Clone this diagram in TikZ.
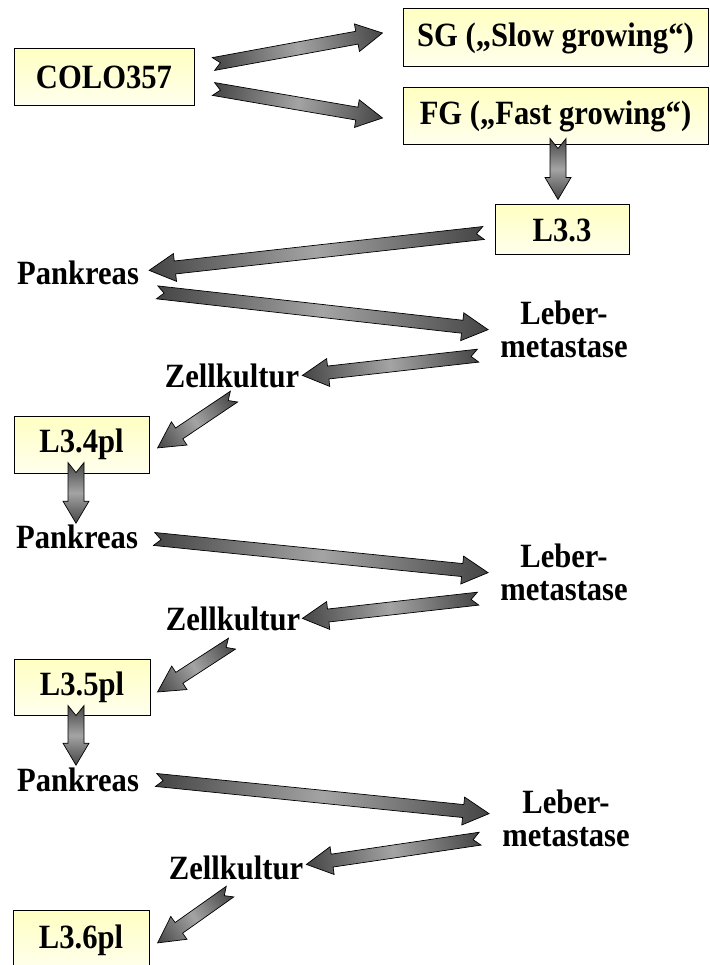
\documentclass[tikz,border=0pt]{standalone}
\usepackage{fontspec}
\setmainfont{Liberation Serif}[FakeStretch=0.9]
\usepackage{tikz}
\usetikzlibrary{calc}
\definecolor{BoxTop}{HTML}{FFFFC2}
\definecolor{BoxBottom}{HTML}{FFFFEE}
\definecolor{ArrowDark}{HTML}{454545}
\definecolor{ArrowLight}{HTML}{A4A4A4}
\tikzset{
  fa shaft/.store in=\fashaft, fa head/.store in=\fahead,
  fa tip/.store in=\fatip, fa notch/.store in=\fanotch,
  fa shaft=6.5, fa head=14, fa tip=26, fa notch=7
}
\newcommand\fatarrow[3][]{%
  \path #2 coordinate (fa-s) #3 coordinate (fa-e);
  \pgfpointdiff{\pgfpointanchor{fa-s}{center}}{\pgfpointanchor{fa-e}{center}}%
  \pgfgetlastxy\fadx\fady
  \pgfmathsetmacro\faang{atan2(\fady,\fadx)}%
  \pgfmathsetmacro\falen{veclen(\fadx,\fady)}%
  \begin{scope}[transform canvas={shift={(fa-s)},rotate=\faang},x=1pt,y=1pt,#1]
    \shade[draw=black,line width=.7pt,left color=ArrowDark,right color=ArrowDark,
      middle color=ArrowLight]
      (0,\fashaft) -- ({\falen-\fatip},\fashaft) -- ({\falen-\fatip},\fahead)
      -- (\falen,0) -- ({\falen-\fatip},-\fahead) -- ({\falen-\fatip},-\fashaft)
      -- (0,-\fashaft) -- (\fanotch,0) -- cycle;
  \end{scope}}

\begin{document}
\begin{tikzpicture}[
  x=1pt,y=-1pt,
  font=\fontsize{34}{33}\selectfont\bfseries,
  cellbox/.style={draw=black,line width=1pt,top color=BoxTop,bottom color=BoxBottom,
    inner sep=0pt},
  stage/.style={inner sep=0pt,anchor=base},
  organ/.style={inner sep=0pt,anchor=north,align=center},
  stout/.style={fa shaft=8,fa head=13,fa tip=22,fa notch=10}
]
\useasboundingbox (0,0) rectangle (709,965);
\clip (0,0) rectangle (709,965);

\node[cellbox,minimum width=180pt,minimum height=57pt] (colo) at (104,77.5) {COLO357};
\node[cellbox,minimum width=305pt,minimum height=58pt] (sg) at (555.5,38) {SG („Slow growing“)};
\node[cellbox,minimum width=305pt,minimum height=57pt] (fg) at (555.5,116.5) {FG („Fast growing“)};
\node[cellbox,minimum width=134pt,minimum height=50pt] (l33) at (562,230) {L3.3};

\node[stage] (pank1) at (78,284) {Pankreas};
\node[organ] (leber1) at (564,301) {Leber-\\metastase};
\node[stage] (zell1) at (232,387) {Zellkultur};
\node[cellbox,minimum width=135pt,minimum height=57pt] (l34) at (81.5,444.5) {L3.4pl};

\node[stage] (pank2) at (77,548) {Pankreas};
\node[organ] (leber2) at (564,544) {Leber-\\metastase};
\node[stage] (zell2) at (233,630) {Zellkultur};
\node[cellbox,minimum width=136pt,minimum height=56pt] (l35) at (82,687) {L3.5pl};

\node[stage] (pank3) at (78,791) {Pankreas};
\node[organ] (leber3) at (566,790) {Leber-\\metastase};
\node[stage] (zell3) at (236,879) {Zellkultur};
\node[cellbox,minimum width=136pt,minimum height=60pt] (l36) at (81,940) {L3.6pl};

\fatarrow{($(colo.east)+(19,-13.5)$)}{($(sg.west)+(-20,-5)$)}
\fatarrow{($(colo.east)+(19,11.5)$)}{($(fg.west)+(-20,1.5)$)}
\fatarrow[stout]{($(fg.south)+(2.5,-7)$)}{($(l33.north)+(-4,-5)$)}
\fatarrow{($(l33.west)+(-11,3)$)}{($(pank1.east)+(10,-2)$)}
\fatarrow{($(pank1.east)+(18,20)$)}{($(leber1.west)+(-12,0)$)}
\fatarrow{($(leber1.west)+(-22,26)$)}{($(zell1.east)+(3,0)$)}
\fatarrow{($(zell1.south)+(2,9)$)}{($(l34.east)+(8,3.5)$)}
\fatarrow[stout]{($(l34.south)+(-5.5,-11)$)}{($(pank2.north)+(-1,-1)$)}
\fatarrow{($(pank2.east)+(16,2.6)$)}{($(leber2.west)+(-12,0)$)}
\fatarrow{($(leber2.west)+(-22,26)$)}{($(zell2.east)+(2,0)$)}
\fatarrow{($(zell2.south)+(-1,13)$)}{($(l35.east)+(7,5)$)}
\fatarrow[stout]{($(l35.south)+(-6,-10)$)}{($(pank3.north)+(-2,-2)$)}
\fatarrow{($(pank3.east)+(17,0.6)$)}{($(leber3.west)+(-13,-5)$)}
\fatarrow{($(leber3.west)+(-22,20)$)}{($(zell3.east)+(3,-3)$)}
\fatarrow{($(zell3.south)+(-6,12)$)}{($(l36.east)+(8,3)$)}
\end{tikzpicture}
\end{document}
